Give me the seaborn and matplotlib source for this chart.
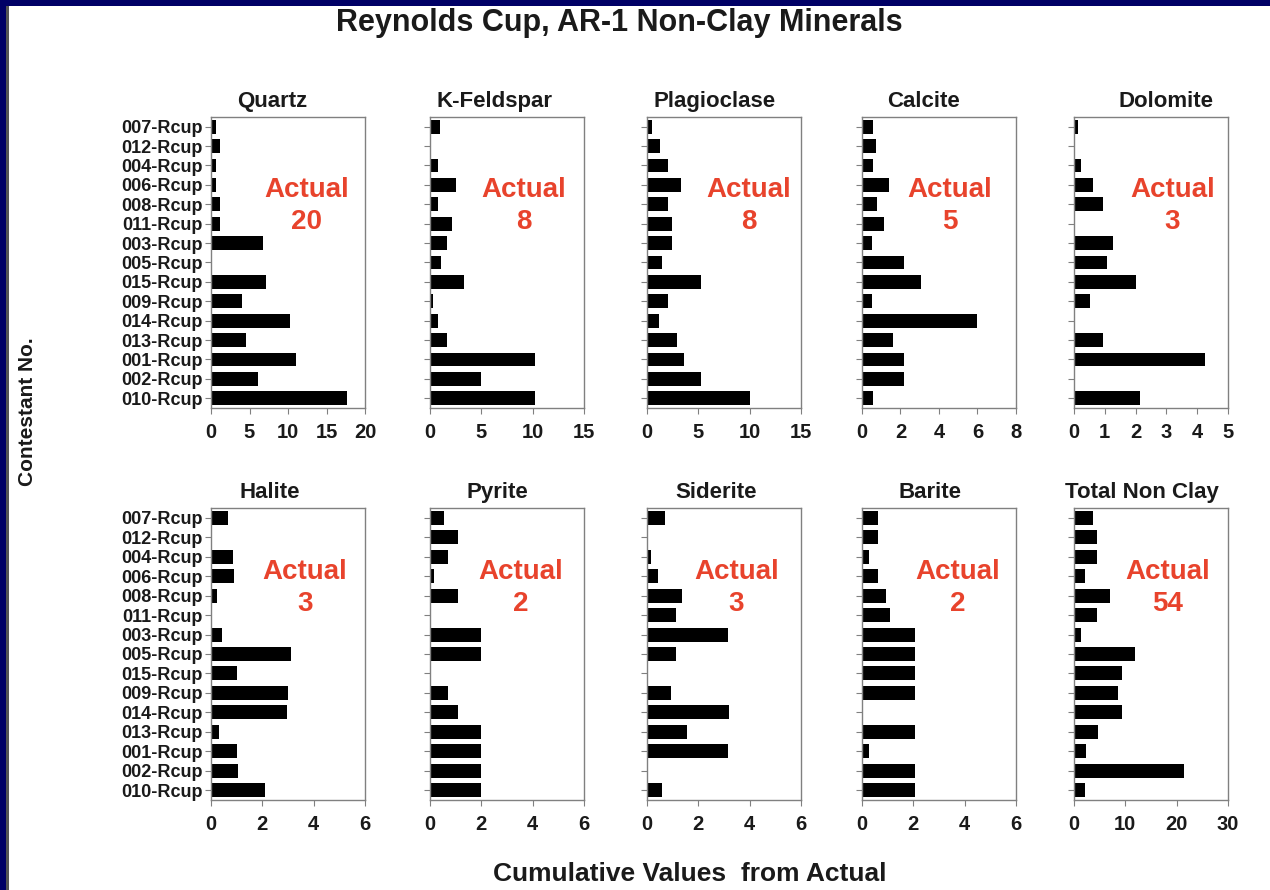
import numpy as np
import pandas as pd
import matplotlib
matplotlib.use("Agg")
import matplotlib.pyplot as plt
from matplotlib.patches import Rectangle
import seaborn as sns

# Contestants, listed top to bottom
contestants = ["007-Rcup", "012-Rcup", "004-Rcup", "006-Rcup", "008-Rcup",
               "011-Rcup", "003-Rcup", "005-Rcup", "015-Rcup", "009-Rcup",
               "014-Rcup", "013-Rcup", "001-Rcup", "002-Rcup", "010-Rcup"]

# Cumulative deviation from the actual value, per mineral
quartz      = [0.7, 1.2, 0.6, 0.7, 1.2, 1.2, 6.7, 0.0, 7.1, 4.0, 10.3, 4.5, 11.0, 6.1, 17.7]
k_feldspar  = [1.0, 0.0, 0.8, 2.5, 0.8, 2.1, 1.7, 1.1, 3.3, 0.3, 0.8, 1.7, 10.2, 5.0, 10.2]
plagioclase = [0.5, 1.3, 2.0, 3.3, 2.0, 2.4, 2.4, 1.5, 5.3, 2.0, 1.2, 2.9, 3.6, 5.3, 10.0]
calcite     = [0.56, 0.73, 0.56, 1.4, 0.76, 1.15, 0.5, 2.2, 3.05, 0.54, 6.0, 1.6, 2.2, 2.2, 0.56]
dolomite    = [0.14, 0.0, 0.22, 0.63, 0.93, 0.0, 1.26, 1.07, 2.0, 0.52, 0.0, 0.93, 4.24, 0.0, 2.13]
halite      = [0.65, 0.0, 0.85, 0.89, 0.22, 0.0, 0.43, 3.1, 1.0, 3.0, 2.96, 0.33, 1.0, 1.04, 2.1]
pyrite      = [0.56, 1.1, 0.72, 0.17, 1.1, 0.0, 2.0, 2.0, 0.0, 0.72, 1.08, 2.0, 2.0, 2.0, 2.0]
siderite    = [0.72, 0.0, 0.16, 0.42, 1.38, 1.12, 3.14, 1.12, 0.0, 0.92, 3.18, 1.54, 3.14, 0.0, 0.58]
barite      = [0.61, 0.61, 0.26, 0.61, 0.95, 1.1, 2.06, 2.06, 2.06, 2.06, 0.0, 2.06, 0.26, 2.06, 2.06]
total_non_clay = [3.7, 4.4, 4.4, 2.2, 7.1, 4.4, 1.4, 11.8, 9.3, 8.6, 9.3, 4.6, 2.3, 21.4, 2.2]

minerals = ["Quartz", "K-Feldspar", "Plagioclase", "Calcite", "Dolomite",
            "Halite", "Pyrite", "Siderite", "Barite", "Total Non Clay"]
actual_values = [20, 8, 8, 5, 3, 3, 2, 3, 2, 54]
x_limits = [20, 15, 15, 8, 5, 6, 6, 6, 6, 30]
x_steps = [5, 5, 5, 2, 1, 2, 2, 2, 2, 10]

series = [quartz, k_feldspar, plagioclase, calcite, dolomite,
          halite, pyrite, siderite, barite, total_non_clay]

df = pd.concat(
    [pd.DataFrame({"mineral": m, "contestant": contestants, "value": v})
     for m, v in zip(minerals, series)],
    ignore_index=True,
)

sns.set_theme(style="white")
plt.rcParams["font.family"] = ["Liberation Sans", "DejaVu Sans"]
plt.rcParams["font.weight"] = "bold"

W, H = 1270, 890
fig = plt.figure(figsize=(W / 100, H / 100), dpi=100)
fig.patch.set_facecolor("white")

# slide frame
fig.patches.append(Rectangle((0, 1 - 6 / H), 1, 6 / H, transform=fig.transFigure,
                             facecolor="#000066", edgecolor="none", zorder=0))
fig.patches.append(Rectangle((0, 0), 6 / W, 1, transform=fig.transFigure,
                             facecolor="#000066", edgecolor="none", zorder=0))
fig.patches.append(Rectangle((6 / W, 0), 3 / W, 1 - 6 / H, transform=fig.transFigure,
                             facecolor="#555555", edgecolor="none", zorder=0))

lefts = [211, 430, 647, 862, 1074]
row_spans = [(117, 408), (508, 800)]
ax_w = 154
label_x = [0.62, 0.61, 0.66, 0.57, 0.64, 0.61, 0.59, 0.58, 0.62, 0.61]
title_x = [0.40, 0.42, 0.44, 0.40, 0.60, 0.38, 0.44, 0.45, 0.44, 0.44]
text_red = "#e8432c"
ink = "#1a1a1a"

for i, mineral in enumerate(minerals):
    r, c = divmod(i, 5)
    top, bot = row_spans[r]
    ax = fig.add_axes([lefts[c] / W, 1 - bot / H, ax_w / W, (bot - top) / H])
    sub = df[df["mineral"] == mineral]
    sns.barplot(data=sub, x="value", y="contestant", order=contestants,
                orient="h", color="black", width=0.72, saturation=1,
                edgecolor="black", linewidth=0, ax=ax)
    ax.set_xlim(0, x_limits[i])
    ax.set_xticks(np.arange(0, x_limits[i] + 0.01, x_steps[i]))
    ax.set_xlabel("")
    ax.set_ylabel("")
    ax.set_title(mineral, fontsize=16, fontweight="bold", color=ink, pad=7,
                 x=title_x[i])
    for s in ax.spines.values():
        s.set_color("#808080")
        s.set_linewidth(1.0)
    ax.tick_params(axis="both", which="both", direction="out", length=4,
                   width=0.8, color="#808080", labelcolor=ink,
                   left=True, bottom=True)
    ax.tick_params(axis="x", labelsize=14.5, pad=7)
    ax.tick_params(axis="y", labelsize=13, pad=2)
    if c != 0:
        ax.set_yticklabels([])
    ax.text(label_x[i], 0.75 if r == 0 else 0.78, "Actual", transform=ax.transAxes,
            ha="center", va="center", color=text_red, fontsize=20, fontweight="bold")
    ax.text(label_x[i], 0.64 if r == 0 else 0.67, str(actual_values[i]),
            transform=ax.transAxes, ha="center", va="center", color=text_red,
            fontsize=20, fontweight="bold")

fig.text(0.488, 1 - 23 / H, "Reynolds Cup, AR-1 Non-Clay Minerals",
         ha="center", va="center", fontsize=22, fontweight="bold", color=ink)
fig.text(28 / W, 1 - 412 / H, "Contestant No.", rotation=90, ha="center",
         va="center", fontsize=15, fontweight="bold", color=ink)
fig.text(690 / W, 1 - 874 / H, "Cumulative Values  from Actual", ha="center",
         va="center", fontsize=19, fontweight="bold", color=ink)

fig.savefig("out.png", dpi=100, facecolor="white")
